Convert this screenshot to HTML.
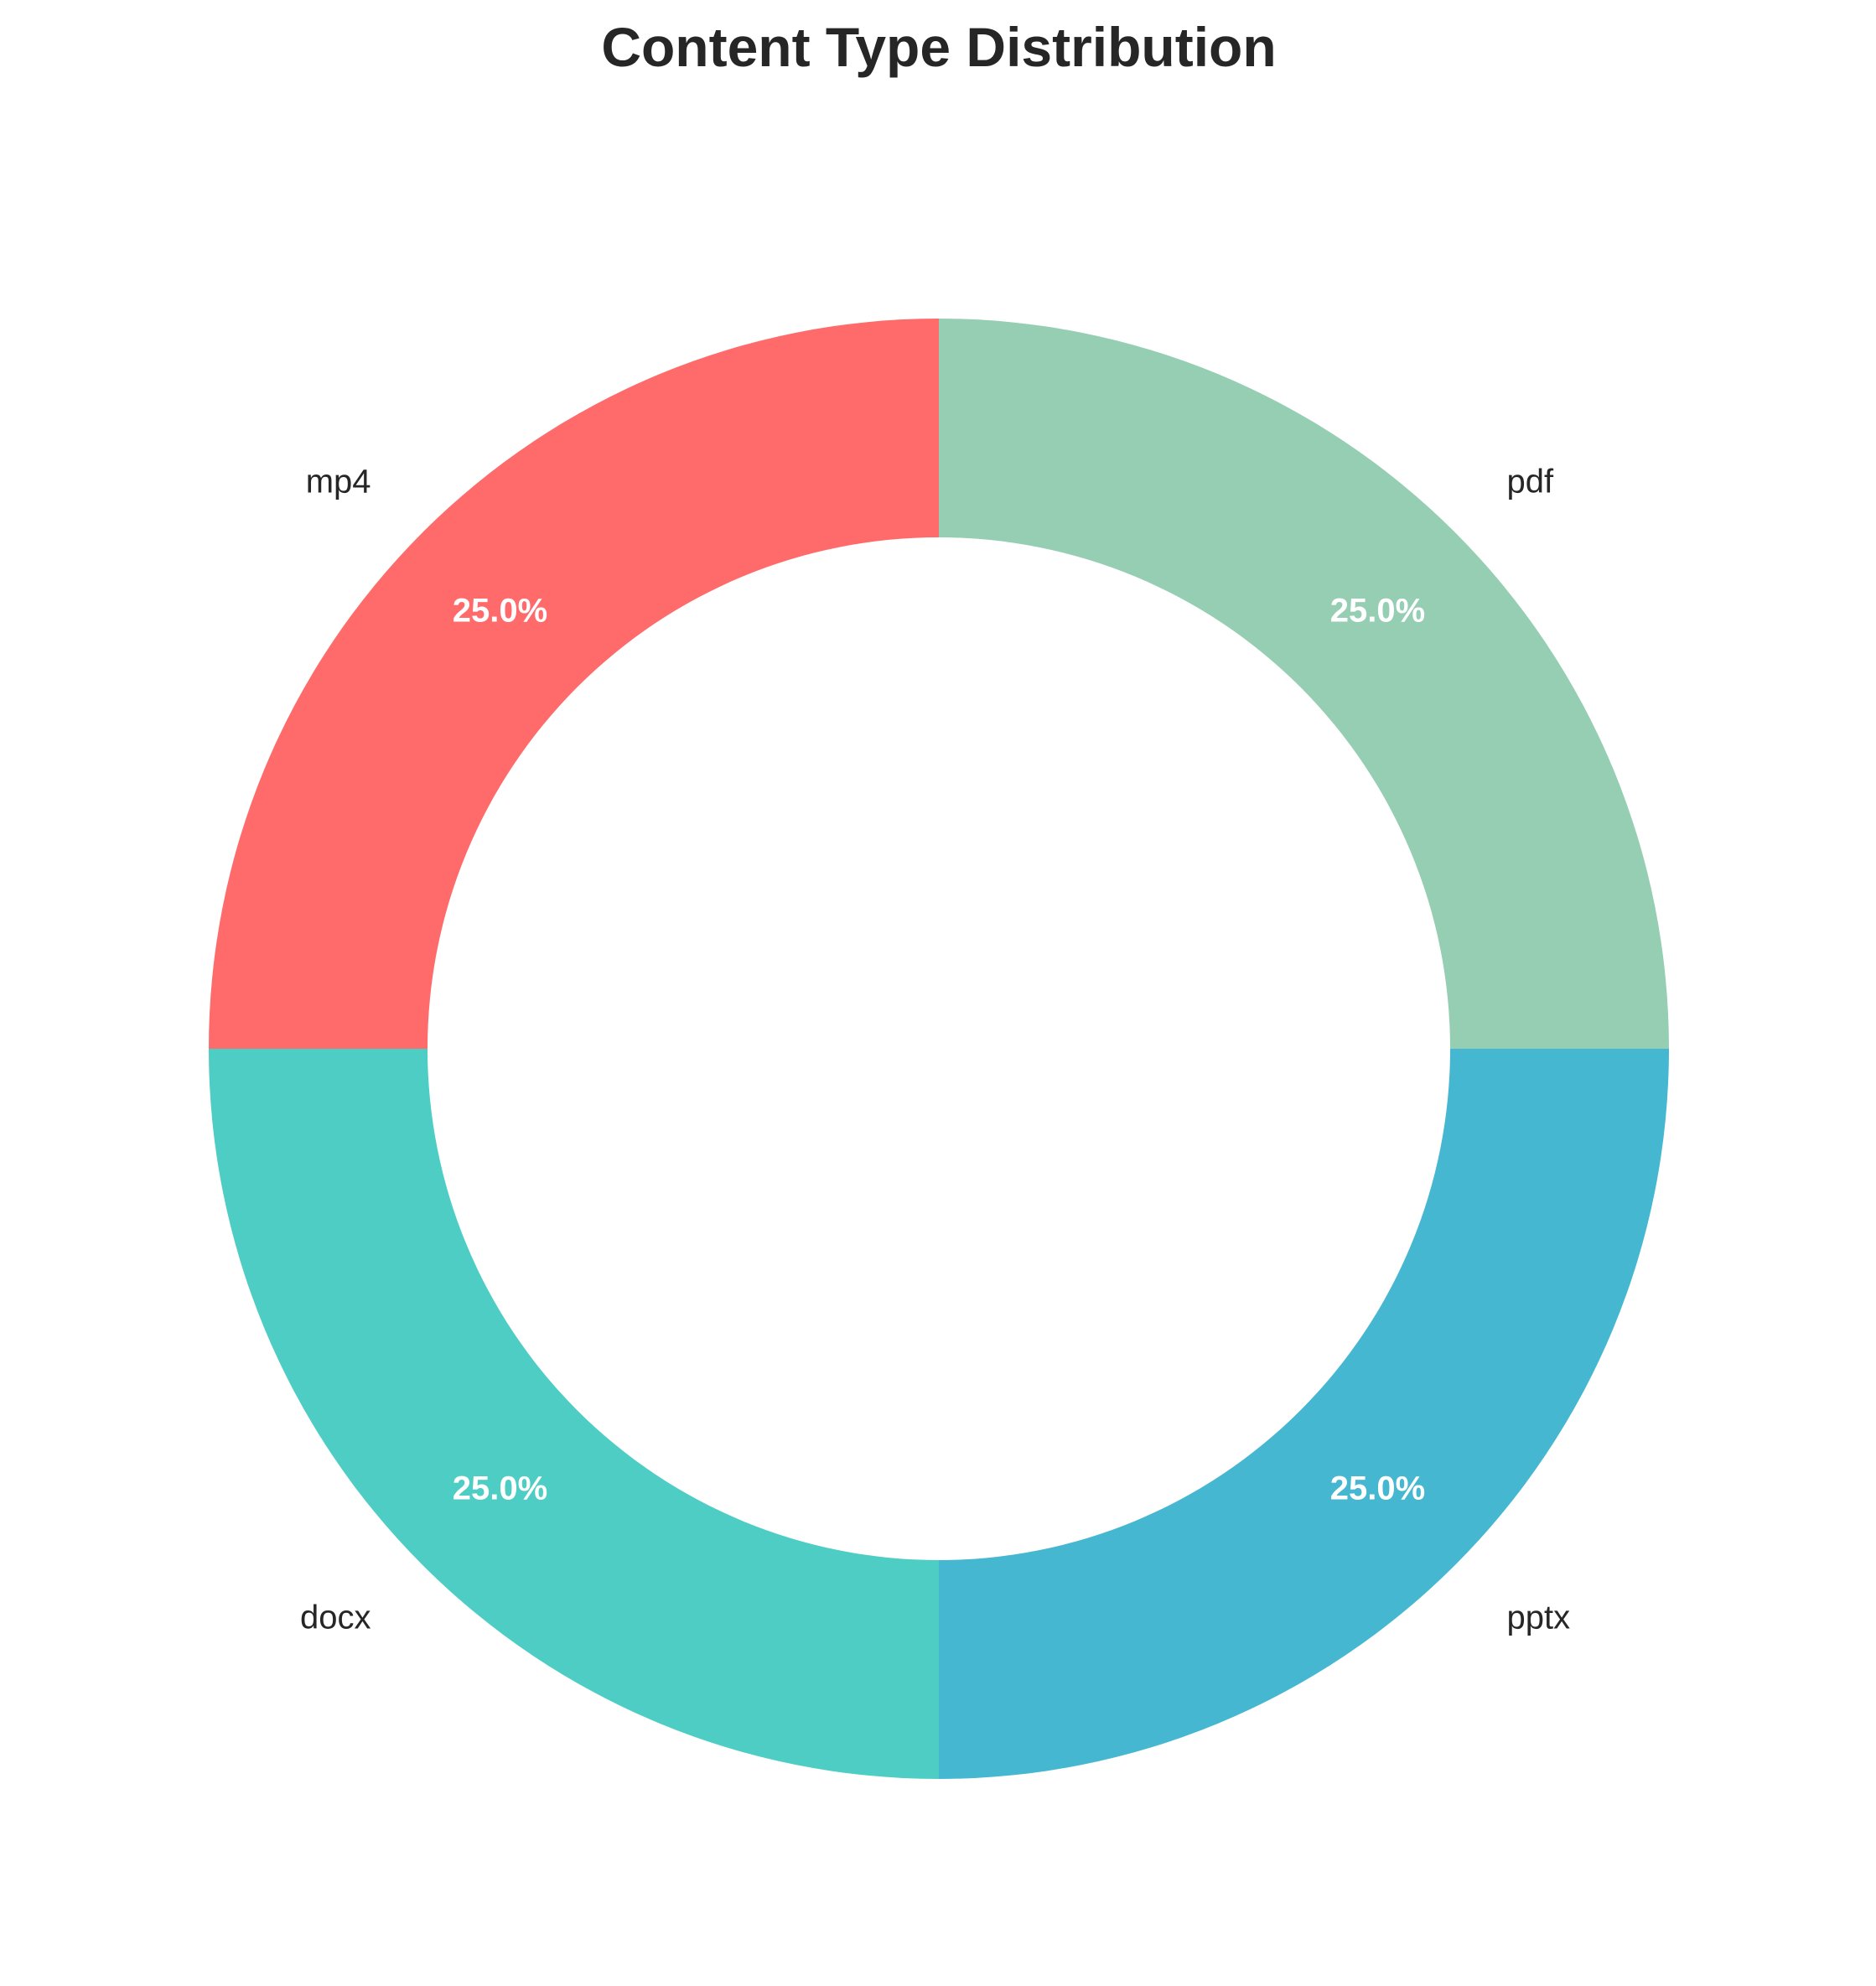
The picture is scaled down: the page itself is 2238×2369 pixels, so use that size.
<!DOCTYPE html>
<html><head><meta charset="utf-8"><style>
body{margin:0;background:#fff;}
svg{display:block;}
text{font-family:"Liberation Sans",sans-serif;}
</style></head><body>
<svg id="chart" width="2238" height="2369" viewBox="0 0 2238 2369">
<rect width="2238" height="2369" fill="#fff"/>
<text x="1120" y="79" text-anchor="middle" font-size="66" font-weight="bold" fill="#262626">Content Type Distribution</text>
<g id="slices"></g>
<g id="labels"></g>
</svg>
<script>
const categories = ["mp4", "docx", "pptx", "pdf"];
const values = [25, 25, 25, 25];
const colors = ["#FF6B6B", "#4ECDC4", "#45B7D1", "#96CEB4"];

const cx = 1120, cy = 1251, R = 871, r = 610;
const ns = "http://www.w3.org/2000/svg";
const total = values.reduce((a, b) => a + b, 0);
const sg = document.getElementById("slices"), lg = document.getElementById("labels");
function pt(rad, a) { return [cx + rad * Math.cos(a), cy - rad * Math.sin(a)]; }
let ang = 90;
values.forEach((v, i) => {
  const sweep = v / total * 360;
  const a0 = ang * Math.PI / 180, a1 = (ang + sweep) * Math.PI / 180;
  const large = sweep > 180 ? 1 : 0;
  const [x0, y0] = pt(R, a0), [x1, y1] = pt(R, a1), [x2, y2] = pt(r, a1), [x3, y3] = pt(r, a0);
  const p = document.createElementNS(ns, "path");
  p.setAttribute("d", `M${x0},${y0} A${R},${R} 0 ${large} 0 ${x1},${y1} L${x2},${y2} A${r},${r} 0 ${large} 1 ${x3},${y3} Z`);
  p.setAttribute("fill", colors[i]);
  
  
  sg.appendChild(p);
  const mid = (ang + sweep / 2) * Math.PI / 180;
  const [lx, ly] = pt(R * 1.1, mid);
  const t = document.createElementNS(ns, "text");
  t.setAttribute("x", lx); t.setAttribute("y", ly + 14);
  t.setAttribute("text-anchor", Math.cos(mid) < 0 ? "end" : "start");
  t.setAttribute("font-size", "40"); t.setAttribute("fill", "#262626");
  t.textContent = categories[i];
  
  
  lg.appendChild(t);
  const [px, py] = pt(R * 0.85, mid);
  const q = document.createElementNS(ns, "text");
  q.setAttribute("x", px); q.setAttribute("y", py + 14);
  q.setAttribute("text-anchor", "middle");
  q.setAttribute("font-size", "40"); q.setAttribute("font-weight", "bold"); q.setAttribute("fill", "#fff");
  q.textContent = (v / total * 100).toFixed(1) + "%";
  
  
  lg.appendChild(q);
  ang += sweep;
});
</script>
</body></html>
